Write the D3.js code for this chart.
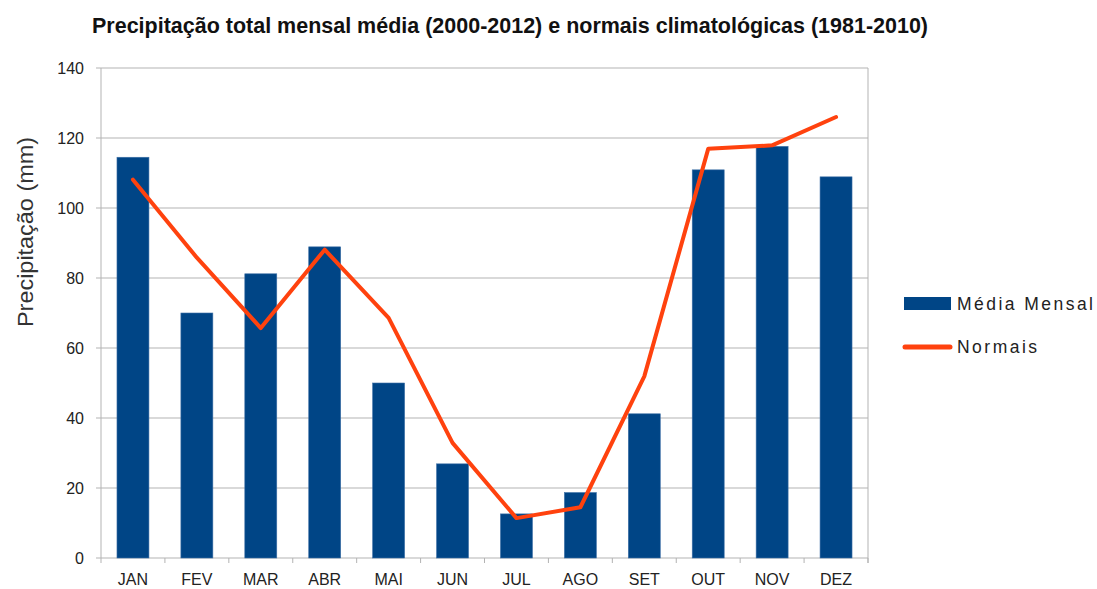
<!DOCTYPE html>
<meta charset="utf-8">
<head>
    <script src="https://d3js.org/d3.v7.min.js"></script>
    <style>
        body { margin: 0; background: #fff; font-family: "Liberation Sans", Arial, sans-serif; }
    </style>
</head>
<body>
<svg></svg>
<script>

    // Data
    var months = ["JAN", "FEV", "MAR", "ABR", "MAI", "JUN", "JUL", "AGO", "SET", "OUT", "NOV", "DEZ"];
    var mediaMensal = [114.5, 70, 81.2, 88.9, 50, 26.9, 12.6, 18.7, 41.2, 110.9, 117.6, 108.9];
    var normais = [108.1, 85.8, 65.7, 88.1, 68.6, 32.9, 11.4, 14.5, 51.9, 116.9, 117.9, 126];
    var yTicks = [0, 20, 40, 60, 80, 100, 120, 140];

    var width = 1097,
        height = 589;
    var margin = {left: 101, right: 229, top: 68, bottom: 31};
    var innerW = width - margin.left - margin.right,
        innerH = height - margin.top - margin.bottom;

    var svg = d3.select('svg')
        .attr('width', width)
        .attr('height', height);

    var g = svg.append('g')
        .attr('transform', 'translate(' + margin.left + ',' + margin.top + ')');

    var x = d3.scaleBand()
        .domain(months)
        .range([0, innerW])
        .paddingInner(0.5)
        .paddingOuter(0.25);

    var y = d3.scaleLinear()
        .domain([0, 140])
        .range([innerH, 0]);

    // gridlines
    g.selectAll('.grid')
        .data(yTicks)
        .enter().append('line')
        .attr('x1', -5)
        .attr('x2', innerW)
        .attr('y1', function (d) { return y(d); })
        .attr('y2', function (d) { return y(d); })
        .style('stroke', '#b3b3b3')
        .style('stroke-width', 1);

    // plot frame (left and right sides)
    g.append('line').attr('x1', 0).attr('x2', 0).attr('y1', 0).attr('y2', innerH)
        .style('stroke', '#b3b3b3');
    g.append('line').attr('x1', innerW).attr('x2', innerW).attr('y1', 0).attr('y2', innerH + 5)
        .style('stroke', '#b3b3b3');

    // x ticks at band boundaries
    g.selectAll('.xtick')
        .data(d3.range(months.length + 1))
        .enter().append('line')
        .attr('x1', function (i) { return i * innerW / months.length; })
        .attr('x2', function (i) { return i * innerW / months.length; })
        .attr('y1', innerH)
        .attr('y2', innerH + 5)
        .style('stroke', '#b3b3b3');

    // y tick labels
    g.selectAll('.ylab')
        .data(yTicks)
        .enter().append('text')
        .attr('x', -17)
        .attr('y', function (d) { return y(d); })
        .attr('dy', '0.36em')
        .attr('text-anchor', 'end')
        .style('font-size', '16px')
        .style('fill', '#222')
        .text(function (d) { return d; });

    // x labels
    g.selectAll('.xlab')
        .data(months)
        .enter().append('text')
        .attr('x', function (d) { return x(d) + x.bandwidth() / 2; })
        .attr('y', innerH + 27)
        .attr('text-anchor', 'middle')
        .style('font-size', '16px')
        .style('fill', '#222')
        .text(function (d) { return d; });

    // bars
    g.selectAll('.bar')
        .data(mediaMensal)
        .enter().append('rect')
        .attr('x', function (d, i) { return x(months[i]); })
        .attr('y', function (d) { return y(d); })
        .attr('width', x.bandwidth())
        .attr('height', function (d) { return innerH - y(d); })
        .style('fill', '#004586')
        .style('stroke', '#3d6fa6')
        .style('stroke-width', 0.6);

    // line
    var line = d3.line()
        .x(function (d, i) { return x(months[i]) + x.bandwidth() / 2; })
        .y(function (d) { return y(d); });

    g.append('path')
        .datum(normais)
        .attr('d', line)
        .style('fill', 'none')
        .style('stroke', '#ff420e')
        .style('stroke-width', 4)
        .style('stroke-linejoin', 'round')
        .style('stroke-linecap', 'round');

    // title (narrow bold look)
    svg.append('text')
        .attr('x', 92)
        .attr('y', 33)
        .attr('textLength', 836)
        .attr('lengthAdjust', 'spacingAndGlyphs')
        .style('font-weight', 'bold')
        .style('font-size', '22px')
        .style('fill', '#111')
        .text('Precipitação total mensal média (2000-2012) e normais climatológicas (1981-2010)');

    // y axis title
    svg.append('text')
        .attr('transform', 'translate(33,232) rotate(-90)')
        .attr('text-anchor', 'middle')
        .attr('textLength', 190)
        .attr('lengthAdjust', 'spacingAndGlyphs')
        .style('font-size', '22px')
        .style('fill', '#333')
        .text('Precipitação  (mm)');

    // legend
    var legend = svg.append('g').attr('transform', 'translate(904,0)');
    legend.append('rect')
        .attr('x', 0).attr('y', 297)
        .attr('width', 47).attr('height', 13)
        .style('fill', '#004586');
    legend.append('text')
        .attr('x', 53).attr('y', 310)
        .attr('textLength', 136)
        .attr('lengthAdjust', 'spacing')
        .style('font-size', '17.5px')
        .style('fill', '#222')
        .text('Média Mensal');
    legend.append('line')
        .attr('x1', 1).attr('x2', 46)
        .attr('y1', 347).attr('y2', 347)
        .style('stroke', '#ff420e')
        .style('stroke-width', 5)
        .style('stroke-linecap', 'round');
    legend.append('text')
        .attr('x', 53).attr('y', 353)
        .attr('textLength', 80)
        .attr('lengthAdjust', 'spacing')
        .style('font-size', '17.5px')
        .style('fill', '#222')
        .text('Normais');

</script>
</body>
